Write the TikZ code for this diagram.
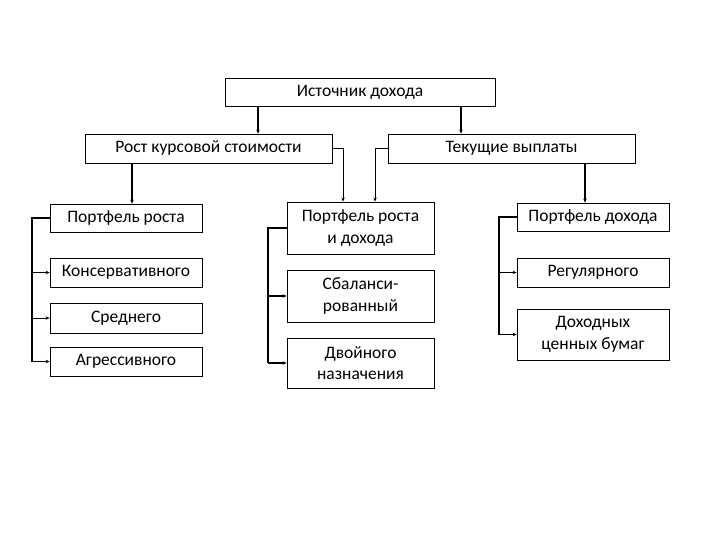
\documentclass[tikz,border=0pt]{standalone}
\usepackage{fontspec}
\setmainfont{Carlito}
\usetikzlibrary{arrows.meta}
\begin{document}
\begin{tikzpicture}[x=1pt,y=-1pt,
  box/.style={draw, line width=0.8pt, align=center, inner sep=0pt, font=\fontsize{17.5}{21.5}\selectfont},
  conn/.style={line width=1.5pt, -{Stealth[length=4pt,width=3.5pt]}},
  thinconn/.style={line width=0.8pt, -{Stealth[length=4pt,width=3.5pt]}},
  bar/.style={line width=1.5pt}]
\useasboundingbox[fill=white] (0,0) rectangle (720,540);
% boxes
\node[box, minimum width=270pt, minimum height=28pt] (top) at (360,92) {Источник дохода};
\node[box, minimum width=247pt, minimum height=29pt] (rost) at (208.5,148.5) {Рост курсовой стоимости};
\node[box, minimum width=247pt, minimum height=29pt] (tek) at (511.5,148.5) {Текущие выплаты};
\node[box, minimum width=152pt, minimum height=28pt] (pr) at (126,218) {Портфель роста};
\node[box, minimum width=152pt, minimum height=29pt] (kons) at (126,272.5) {Консервативного};
\node[box, minimum width=152pt, minimum height=30pt] (sred) at (126,318) {Среднего};
\node[box, minimum width=152pt, minimum height=29pt] (agr) at (126,361.5) {Агрессивного};
\node[box, minimum width=147pt, minimum height=52pt] (prd) at (360.5,228) {Портфель роста\\и дохода};
\node[box, minimum width=147pt, minimum height=52pt] (sbal) at (360.5,296) {Сбаланси-\\рованный};
\node[box, minimum width=147pt, minimum height=50pt] (dvoy) at (360.5,363) {Двойного\\назначения};
\node[box, minimum width=152pt, minimum height=28pt] (pd) at (593,217) {Портфель дохода};
\node[box, minimum width=152pt, minimum height=29pt] (reg) at (593,272.5) {Регулярного};
\node[box, minimum width=152pt, minimum height=51pt] (doh) at (593,334.5) {Доходных\\ценных бумаг};
% helper x positions
\coordinate (xa) at (258,0);
\coordinate (xb) at (461,0);
\coordinate (xc) at (132,0);
\coordinate (xd) at (585,0);
\coordinate (xe) at (343,0);
\coordinate (xf) at (375,0);
\coordinate (xl) at (32,0);
\coordinate (xm) at (268,0);
\coordinate (xr) at (499,0);
% connectors
\draw[conn] (top.south -| xa) -- (rost.north -| xa);
\draw[conn] (top.south -| xb) -- (tek.north -| xb);
\draw[conn] (rost.south -| xc) -- (pr.north -| xc);
\draw[conn] (tek.south -| xd) -- (pd.north -| xd);
\draw[thinconn] (rost.east) -| (prd.north -| xe);
\draw[thinconn] (tek.west) -| (prd.north -| xf);
% left bracket
\draw[bar] (pr.west) -| (xl |- agr.west);
\draw[conn] (xl |- kons.west) -- (kons.west);
\draw[thinconn] (xl |- sred.west) -- (sred.west);
\draw[thinconn] (xl |- agr.west) -- (agr.west);
% middle bracket
\draw[bar] (prd.west) -| (xm |- dvoy.west);
\draw[conn] (xm |- sbal.west) -- (sbal.west);
\draw[conn] (xm |- dvoy.west) -- (dvoy.west);
% right bracket
\draw[bar] (pd.west) -| (xr |- doh.west);
\draw[conn] (xr |- reg.west) -- (reg.west);
\draw[conn] (xr |- doh.west) -- (doh.west);
\end{tikzpicture}
\end{document}
